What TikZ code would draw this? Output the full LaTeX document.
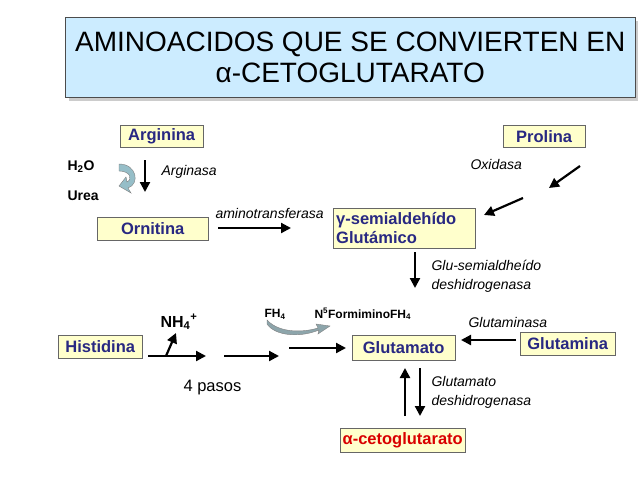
\documentclass[tikz,border=0pt]{standalone}
\usepackage{fontspec}
\setmainfont{Liberation Sans}
\usetikzlibrary{arrows.meta,shadows}
\definecolor{boxfill}{RGB}{255,255,204}
\definecolor{txtblue}{RGB}{40,40,130}
\definecolor{titlefill}{RGB}{204,236,255}
\definecolor{curvfill}{RGB}{150,190,200}
\tikzset{
 box/.style={draw=gray!80!black,fill=boxfill,font=\bfseries\fontsize{16.5}{19}\selectfont,text=txtblue,anchor=north west,inner sep=0pt},
 arr/.style={-{Triangle[length=10pt,width=10pt]},line width=2.2pt},
 lab/.style={font=\itshape\fontsize{14}{19}\selectfont,anchor=west,align=left},
 blk/.style={font=\bfseries\fontsize{14}{16}\selectfont,anchor=west}
}
\begin{document}
\begin{tikzpicture}[x=1pt,y=-1pt]
\useasboundingbox (0,0) rectangle (638,479);
\node[draw=gray!60!black,fill=titlefill,drop shadow={fill=gray!80,shadow xshift=4pt,shadow yshift=-4pt},minimum width=570pt,minimum height=80pt,anchor=north west,align=center,font=\fontsize{28}{31}\selectfont] (title) at (65,17) {AMINOACIDOS QUE SE CONVIERTEN EN\\α-CETOGLUTARATO};
\node[box,minimum width=83pt,minimum height=22pt] (arg) at (120,125) {Arginina};
\node[box,minimum width=82pt,minimum height=22pt] (pro) at (503,125) {Prolina};
\node[box,minimum width=111pt,minimum height=23pt] (orn) at (97,217) {Ornitina};
\node[box,minimum width=142pt,minimum height=40pt,align=left,text width=136pt,inner xsep=3pt] (gsa) at (333,208) {γ-semialdehído\\Glutámico};
\node[box,minimum width=84pt,minimum height=23pt] (his) at (58,335) {Histidina};
\node[box,minimum width=103pt,minimum height=25pt] (glu) at (352,335) {Glutamato};
\node[box,minimum width=95pt,minimum height=23pt] (gln) at (520,332) {Glutamina};
\node[box,minimum width=125pt,minimum height=24pt,text=red!85!black] (akg) at (340,428) {α-cetoglutarato};
% labels
\node[blk] (h2o) at (64,167) {H\textsubscript{2}O};
\node[blk] (urea) at (64,196) {Urea};
\node[lab] (argn) at (158,172) {Arginasa};
\node[lab] (amt) at (212,213) {aminotransferasa};
\node[lab] (oxi) at (467,164) {Oxidasa};
\node[lab] (gsd) at (428,276) {Glu-semialdheído\\deshidrogenasa};
\node[lab] (glsa) at (465,322) {Glutaminasa};
\node[lab] (gdh) at (428,392) {Glutamato\\deshidrogenasa};
\node[font=\fontsize{16.5}{19}\selectfont,anchor=west] (pasos) at (180,388) {4 pasos};
\node[font=\bfseries\fontsize{16}{18}\selectfont,anchor=west] (nh4) at (157,322) {NH\textsubscript{4}\textsuperscript{+}};
\node[font=\bfseries\fontsize{12}{14}\selectfont,anchor=west] (fh4) at (261,314) {FH\textsubscript{4}};
\node[font=\bfseries\fontsize{12}{14}\selectfont,anchor=west] (nfh) at (311,314) {N\textsuperscript{5}FormiminoFH\textsubscript{4}};
% arrows
\coordinate (a1) at (145,160); \coordinate (a2) at (145,192);
\draw[arr] (a1) -- (a2);
\draw[fill=curvfill,draw=gray] (119,164) .. controls (137,164) and (140,184) .. (128,188) -- (131,193) -- (119,186) -- (126,177) -- (127,182) .. controls (133,179) and (130,171) .. (119,171) -- cycle;
\coordinate (b1) at (218,228); \coordinate (b2) at (291,228);
\draw[arr] (b1) -- (b2);
\coordinate (p1) at (580,166); \coordinate (p2) at (549,188);
\draw[arr] (p1) -- (p2);
\coordinate (p3) at (523,198); \coordinate (p4) at (484,215);
\draw[arr] (p3) -- (p4);
\coordinate (c1) at (415,252); \coordinate (c2) at (415,288);
\draw[arr] (c1) -- (c2);
\coordinate (h1) at (148,356); \coordinate (h2) at (206,356);
\draw[arr] (h1) -- (h2);
\coordinate (n0) at (166,356); \coordinate (n1) at (176,333);
\draw[arr] (n0) -- (n1);
\coordinate (h3) at (224,356); \coordinate (h4) at (279,356);
\draw[arr] (h3) -- (h4);
\coordinate (h5) at (289,348); \coordinate (h6) at (346,348);
\draw[arr] (h5) -- (h6);
\draw[fill=curvfill!60!gray,draw=gray] (267,320) .. controls (280,334) and (305,332) .. (318,328) -- (316,324) -- (330,326) -- (318,334) -- (319,330) .. controls (300,338) and (275,336) .. (267,324) -- cycle;
\coordinate (g1) at (516,340); \coordinate (g2) at (461,340);
\draw[arr] (g1) -- (g2);
\coordinate (d1) at (405,416); \coordinate (d2) at (405,368);
\draw[arr] (d1) -- (d2);
\coordinate (d3) at (420,368); \coordinate (d4) at (420,416);
\draw[arr] (d3) -- (d4);
\end{tikzpicture}
\end{document}
